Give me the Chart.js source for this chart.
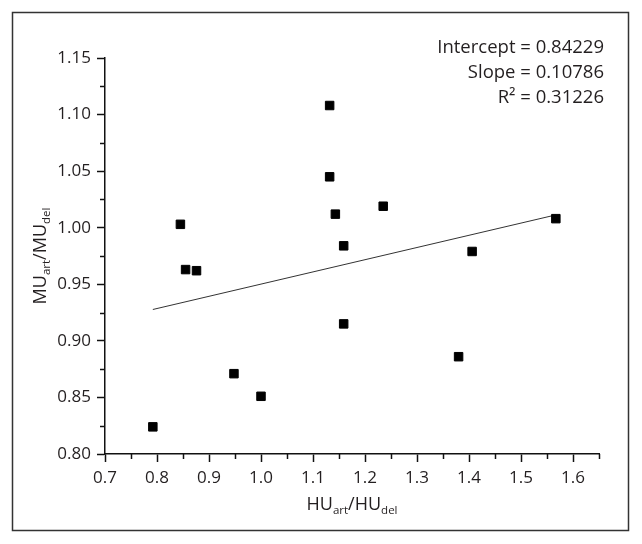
<!DOCTYPE html>
<html>
<head>
<meta charset="utf-8">
<script src="https://cdn.jsdelivr.net/npm/chart.js@4.4.1/dist/chart.umd.min.js"></script>
<style>
html, body { margin: 0; padding: 0; background: #fff; }
</style>
</head>
<body>
<canvas id="scatter" width="642" height="544"></canvas>
<script>
// values
const huRatio = [0.792, 0.845, 0.855, 0.876, 0.948, 1.000, 1.132, 1.132, 1.143, 1.159, 1.159, 1.235, 1.380, 1.406, 1.567];
const muRatio = [0.824, 1.003, 0.963, 0.962, 0.871, 0.851, 1.108, 1.045, 1.012, 0.984, 0.915, 1.019, 0.886, 0.979, 1.008];
const xTicks = [0.7, 0.8, 0.9, 1.0, 1.1, 1.2, 1.3, 1.4, 1.5, 1.6];
const yTicks = [0.80, 0.85, 0.90, 0.95, 1.00, 1.05, 1.10, 1.15];
const intercept = 0.84229;
const slope = 0.10786;
const rSquared = 0.31226;

const FONT = "'Open Sans', sans-serif";
const INK = "#231f20";

const points = huRatio.map((x, i) => ({ x: x, y: muRatio[i] }));
const xLo = Math.min(...huRatio);
const xHi = Math.max(...huRatio);
const fitLine = [
    { x: xLo, y: intercept + slope * xLo },
    { x: xHi, y: intercept + slope * xHi }
];

// text with subscripts, centred on x
function drawParts(ctx, parts, x, y) {
    let total = 0;
    parts.forEach(p => {
        ctx.font = (p.sub ? "11.5px " : "18px ") + FONT;
        p.w = ctx.measureText(p.t).width;
        total += p.w;
    });
    let cx = x - total / 2;
    parts.forEach(p => {
        ctx.font = (p.sub ? "11.5px " : "18px ") + FONT;
        ctx.fillText(p.t, cx, p.sub ? y + 4 : y);
        cx += p.w;
    });
}

const framePlugin = {
    id: "frame",
    beforeDraw(chart) {
        const ctx = chart.ctx;
        ctx.save();
        ctx.fillStyle = "#fff";
        ctx.fillRect(0, 0, chart.width, chart.height);
        ctx.strokeStyle = "#333";
        ctx.lineWidth = 1.5;
        ctx.strokeRect(12.5, 12.5, 616, 518);
        ctx.restore();
    }
};

const minorTicks = {
    id: "minorTicks",
    afterDraw(chart) {
        const ctx = chart.ctx;
        const xs = chart.scales.x;
        const ys = chart.scales.y;
        ctx.save();
        ctx.strokeStyle = "#111";
        ctx.lineWidth = 1.5;
        const halfX = (xTicks[1] - xTicks[0]) / 2;
        xTicks.forEach(v => {
            const m = v + halfX;
            if (m <= xs.max + 1e-9) {
                const px = Math.round(xs.getPixelForValue(m)) + 0.5;
                ctx.beginPath();
                ctx.moveTo(px, xs.top);
                ctx.lineTo(px, xs.top + 5);
                ctx.stroke();
            }
        });
        const halfY = (yTicks[1] - yTicks[0]) / 2;
        yTicks.forEach(v => {
            const m = v + halfY;
            if (m <= ys.max + 1e-9) {
                const py = Math.round(ys.getPixelForValue(m)) + 0.5;
                ctx.beginPath();
                ctx.moveTo(ys.right, py);
                ctx.lineTo(ys.right - 5, py);
                ctx.stroke();
            }
        });
        ctx.restore();
    }
};

const labels = {
    id: "labels",
    afterDraw(chart) {
        const ctx = chart.ctx;
        const area = chart.chartArea;
        ctx.save();
        ctx.fillStyle = INK;
        ctx.textBaseline = "alphabetic";
        ctx.textAlign = "left";
        drawParts(ctx, [
            { t: "HU" }, { t: "art", sub: true }, { t: "/HU" }, { t: "del", sub: true }
        ], (area.left + area.right) / 2, 510);

        ctx.translate(46, (area.top + area.bottom) / 2);
        ctx.rotate(-Math.PI / 2);
        drawParts(ctx, [
            { t: "MU" }, { t: "art", sub: true }, { t: "/MU" }, { t: "del", sub: true }
        ], 0, 0);
        ctx.restore();

        ctx.save();
        ctx.fillStyle = INK;
        ctx.textAlign = "right";
        ctx.font = "18.5px " + FONT;
        ctx.fillText("Intercept = " + intercept.toFixed(5), 604, 53);
        ctx.fillText("Slope = " + slope.toFixed(5), 604, 78);
        ctx.fillText("R\u00b2 = " + rSquared.toFixed(5), 604, 103);
        ctx.restore();
    }
};

new Chart(document.getElementById("scatter"), {
    type: "scatter",
    data: {
        datasets: [{
            data: points,
            pointStyle: "rect",
            pointRadius: 6,
            backgroundColor: "#000",
            borderColor: "#000",
            borderWidth: 1
        }, {
            type: "line",
            data: fitLine,
            borderColor: "#333",
            borderWidth: 1,
            pointRadius: 0,
            fill: false
        }]
    },
    options: {
        responsive: false,
        animation: false,
        devicePixelRatio: 1,
        layout: { padding: { left: 0, top: 58, right: 43, bottom: 0 } },
        plugins: { legend: { display: false }, tooltip: { enabled: false } },
        scales: {
            x: {
                type: "linear",
                min: 0.7,
                max: 1.65,
                afterBuildTicks: s => { s.ticks = xTicks.map(v => ({ value: v })); },
                afterFit: s => { s.height = 90; },
                ticks: {
                    callback: v => v.toFixed(1),
                    font: { family: FONT, size: 17 },
                    color: INK,
                    padding: 6,
                    maxRotation: 0,
                    autoSkip: false
                },
                grid: { drawOnChartArea: false, tickLength: 8, tickColor: "#111", tickWidth: 1.5 },
                border: { color: "#111", width: 1.5 }
            },
            y: {
                type: "linear",
                min: 0.8,
                max: 1.15,
                afterBuildTicks: s => { s.ticks = yTicks.map(v => ({ value: v })); },
                afterFit: s => { s.width = 105; },
                ticks: {
                    callback: v => v.toFixed(2),
                    font: { family: FONT, size: 17 },
                    color: INK,
                    padding: 6,
                    autoSkip: false
                },
                grid: { drawOnChartArea: false, tickLength: 8, tickColor: "#111", tickWidth: 1.5 },
                border: { color: "#111", width: 1.5 }
            }
        }
    },
    plugins: [framePlugin, minorTicks, labels]
});
</script>
</body>
</html>
